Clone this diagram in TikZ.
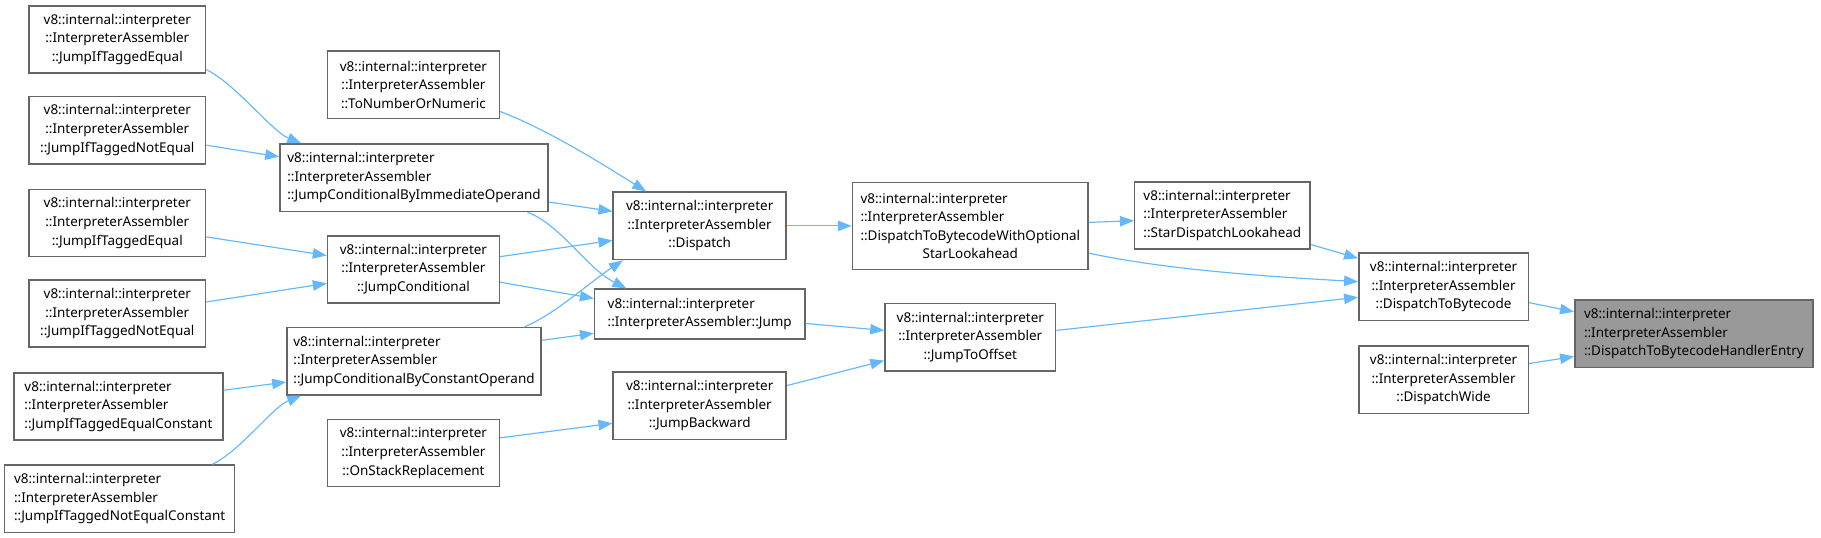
\documentclass[tikz,border=0pt]{standalone}
\usepackage{fontspec}
\usepackage{calc}
\setmainfont{Noto Sans}
\usetikzlibrary{calc,arrows.meta}
\definecolor{edgeblue}{HTML}{63B8FF}
\definecolor{boxgray}{HTML}{666666}
\definecolor{hlgray}{HTML}{999999}
\newcommand{\vi}{v8::internal::interpreter}
\newcommand{\ia}{::InterpreterAssembler}

\begin{document}
\begin{tikzpicture}[x=1pt,y=-1pt,
    fn/.style={draw=boxgray,line width=1.3pt,fill=white,inner sep=0pt,
      minimum height=58pt,font=\fontsize{11.6}{16}\selectfont,align=center},
    fnl/.style={fn,align=left},
    edge/.style={edgeblue,line width=1pt,-{Triangle[length=12pt,width=9pt]}}]
    \useasboundingbox (0,0) rectangle (1568,463.2);
    % left column
    \node[fn,minimum width=152pt] (jieA) at (101,34) {\vi\\\ia\\::JumpIfTaggedEqual};
    \node[fn,minimum width=152pt] (jineA) at (101,112) {\vi\\\ia\\::JumpIfTaggedNotEqual};
    \node[fn,minimum width=152pt] (jieB) at (101,192) {\vi\\\ia\\::JumpIfTaggedEqual};
    \node[fn,minimum width=152pt] (jineB) at (101,270) {\vi\\\ia\\::JumpIfTaggedNotEqual};
    \node[fnl,minimum width=180pt] (jiec) at (102,350) {\vi\\\ia\\::JumpIfTaggedEqualConstant};
    \node[fnl,minimum width=198pt] (jinec) at (103,429.5) {\vi\\\ia\\::JumpIfTaggedNotEqualConstant};
    % second column
    \node[fn,minimum width=148pt] (tonum) at (356,73) {\vi\\\ia\\::ToNumberOrNumeric};
    \node[fnl,minimum width=231pt] (jcbio) at (356.5,153) {\vi\\\ia\\::JumpConditionalByImmediateOperand};
    \node[fn,minimum width=148pt] (jcond) at (356,232) {\vi\\\ia\\::JumpConditional};
    \node[fnl,minimum width=219pt] (jcbco) at (356.5,311) {\vi\\\ia\\::JumpConditionalByConstantOperand};
    \node[fn,minimum width=148pt] (osr) at (356,390) {\vi\\\ia\\::OnStackReplacement};
    % third column
    \node[fn,minimum width=149pt] (dispatch) at (602.5,194.5) {\vi\\\ia\\::Dispatch};
    \node[fnl,minimum width=181pt,minimum height=43pt] (jump) at (602.5,270.5) {\vi\\\ia::Jump};
    \node[fn,minimum width=149pt] (jback) at (602.5,349.5) {\vi\\\ia\\::JumpBackward};
    % fourth column
    \node[fnl,minimum width=203pt,minimum height=75pt] (dtbw) at (835.5,194.5)
      {\vi\\\ia\\::DispatchToBytecodeWithOptional\\
       \makebox[\widthof{::DispatchToBytecodeWithOptional}]{StarLookahead}};
    \node[fn,minimum width=147pt] (jto) at (835.5,290.5) {\vi\\\ia\\::JumpToOffset};
    % right part
    \node[fnl,minimum width=151pt] (sdl) at (1052.5,185.5) {\vi\\\ia\\::StarDispatchLookahead};
    \node[fn,minimum width=146pt] (dtb) at (1243,247) {\vi\\\ia\\::DispatchToBytecode};
    \node[fn,minimum width=146pt] (dwide) at (1243,327) {\vi\\\ia\\::DispatchWide};
    \node[fnl,fill=hlgray,minimum width=205pt] (dtbhe) at (1458.5,287.5) {\vi\\\ia\\::DispatchToBytecodeHandlerEntry};

    % calls
    \draw[edge] ($(jieA.east)+(0,26)$) .. controls +(25,12) and +(-25,-10) .. ($(jcbio.north west)+(19,0)$);
    \draw[edge] ($(jineA.east)+(0,13)$) -- ($(jcbio.west)+(0,-18)$);
    \draw[edge] ($(jieB.east)+(0,12)$) -- ($(jcond.west)+(0,-12)$);
    \draw[edge] ($(jineB.east)+(0,-10)$) -- ($(jcond.west)+(0,12)$);
    \draw[edge] ($(jiec.east)+(0,-14)$) -- ($(jcbco.west)+(0,18)$);
    \draw[edge] ($(jinec.north east)+(-20,0)$) .. controls +(25,-12) and +(-25,10) .. ($(jcbco.south west)+(13,0)$);
    \draw[edge] ($(tonum.east)+(0,23)$) .. controls +(40,15) and +(-35,-22) .. ($(dispatch.north west)+(29,0)$);
    \draw[edge] ($(jcbio.east)+(0,21)$) -- ($(dispatch.west)+(0,-12.5)$);
    \draw[edge] ($(jcbio.south east)+(-18.5,0)$) .. controls +(30,12) and +(-35,-18) .. ($(jump.north west)+(28,0)$);
    \draw[edge] ($(jcond.east)+(0,-11)$) -- ($(dispatch.west)+(0,12.5)$);
    \draw[edge] ($(jcond.east)+(0,11)$) -- ($(jump.west)+(0,-13.5)$);
    \draw[edge] ($(jcbco.north east)+(-15,0)$) .. controls +(25,-10) and +(-30,20) .. ($(dispatch.south west)+(9,0)$);
    \draw[edge] ($(jcbco.east)+(0,-18)$) -- ($(jump.west)+(0,16.5)$);
    \draw[edge] ($(osr.east)+(0,-13)$) -- ($(jback.west)+(0,15)$);
    \draw[edge] (dispatch.east) -- (dtbw.west);
    \draw[edge] ($(jump.east)+(0,8)$) -- ($(jto.west)+(0,-6)$);
    \draw[edge] ($(jback.east)+(0,-17.5)$) -- ($(jto.west)+(0,20)$);
    \draw[edge] ($(dtbw.east)+(0,-3)$) -- ($(sdl.west)+(0,4.5)$);
    \draw[edge] ($(dtbw.east)+(0,23.5)$) .. controls +(70,15) and +(-70,-4) .. ($(dtb.west)+(0,-4.5)$);
    \draw[edge] ($(jto.east)+(0,-6)$) -- ($(dtb.west)+(0,9)$);
    \draw[edge] ($(sdl.east)+(0,25)$) -- ($(dtb.west)+(0,-24.6)$);
    \draw[edge] ($(dtb.east)+(0,13.6)$) -- ($(dtbhe.west)+(0,-19)$);
    \draw[edge] ($(dwide.east)+(0,-14)$) -- ($(dtbhe.west)+(0,19.5)$);
\end{tikzpicture}
\end{document}
